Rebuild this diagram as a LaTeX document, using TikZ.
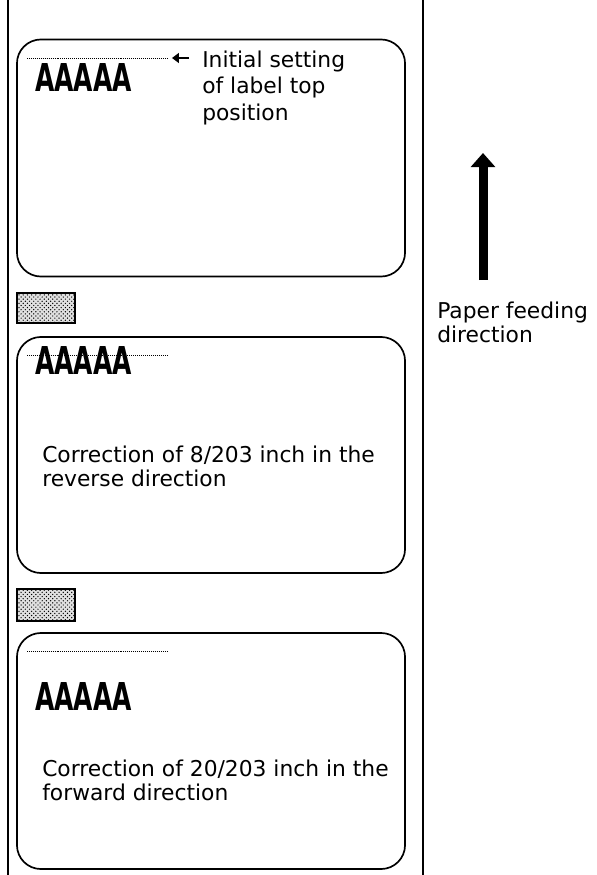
\documentclass[tikz,border=0pt]{standalone}
\usepackage{fontspec}
\setmainfont{DejaVu Sans}
\usetikzlibrary{arrows.meta,patterns}

\begin{document}
\begin{tikzpicture}[x=0.025cm,y=-0.025cm,
  labelbox/.style={draw,line width=1.2pt,rounded corners=0.6cm,inner sep=0pt,minimum width=9.7cm},
  gapmark/.style={draw,line width=1pt,inner sep=0pt,minimum width=1.45cm,minimum height=0.75cm,
    preaction={fill=black!12},pattern=crosshatch dots,pattern color=black},
  sample/.style={anchor=base west,inner sep=0pt,font=\fontsize{27.3}{30}\selectfont\bfseries},
  note/.style={anchor=base west,inner sep=0pt,align=left,font=\fontsize{15.5}{16.4}\selectfont},
  topline/.style={dash pattern=on 0.5pt off 0.9pt,line width=0.7pt},
  pointer/.style={-{Triangle[length=5pt,width=7pt]},line width=1.3pt},
  feed/.style={-{Triangle[length=10pt,width=17pt]},line width=6.4pt}]
  \useasboundingbox (0,0) rectangle (597,875);
  \coordinate (edgeLt) at (8,0);
  \coordinate (edgeLb) at (8,875);
  \coordinate (edgeRt) at (423,0);
  \coordinate (edgeRb) at (423,875);
  \node[labelbox,minimum height=5.925cm] (label1) at (211,158) {};
  \node[labelbox,minimum height=5.9cm] (label2) at (211,455) {};
  \node[labelbox,minimum height=5.9cm] (label3) at (211,751) {};
  \node[gapmark] (gap1) at (46,308) {};
  \node[gapmark,minimum height=0.8cm] (gap2) at (46,605) {};
  \node[sample] (print1) at (35,91) {\scalebox{0.65}[1]{AAAAA}};
  \node[sample] (print2) at (35,374) {\scalebox{0.65}[1]{AAAAA}};
  \node[sample] (print3) at (35,710) {\scalebox{0.65}[1]{AAAAA}};
  \coordinate (top1a) at (27,58);
  \coordinate (top1b) at (168,58);
  \coordinate (top2a) at (27,355);
  \coordinate (top2b) at (168,355);
  \coordinate (top3a) at (27,651);
  \coordinate (top3b) at (168,651);
  \coordinate (pointtail) at (189,58);
  \node[note,font=\fontsize{15.5}{18.8}\selectfont] (initial) at (202,120) {Initial setting\\of label top\\position};
  \node[note] (reverse) at (42,486) {Correction of 8/203 inch in the\\reverse direction};
  \node[note] (forward) at (42,800) {Correction of 20/203 inch in the\\forward direction};
  \coordinate (feedtail) at (483,280);
  \coordinate (feedhead) at (483,153);
  \node[note] (feedtext) at (437,342) {Paper feeding\\direction};
  \draw[line width=1.2pt] (edgeLt) -- (edgeLb);
  \draw[line width=1.2pt] (edgeRt) -- (edgeRb);
  \draw[topline] (top1a) -- (top1b);
  \draw[topline] (top2a) -- (top2b);
  \draw[topline] (top3a) -- (top3b);
  \draw[pointer,shorten >=2.8pt] (pointtail) -- (top1b);
  \draw[feed] (feedtail) -- (feedhead);
\end{tikzpicture}
\end{document}
